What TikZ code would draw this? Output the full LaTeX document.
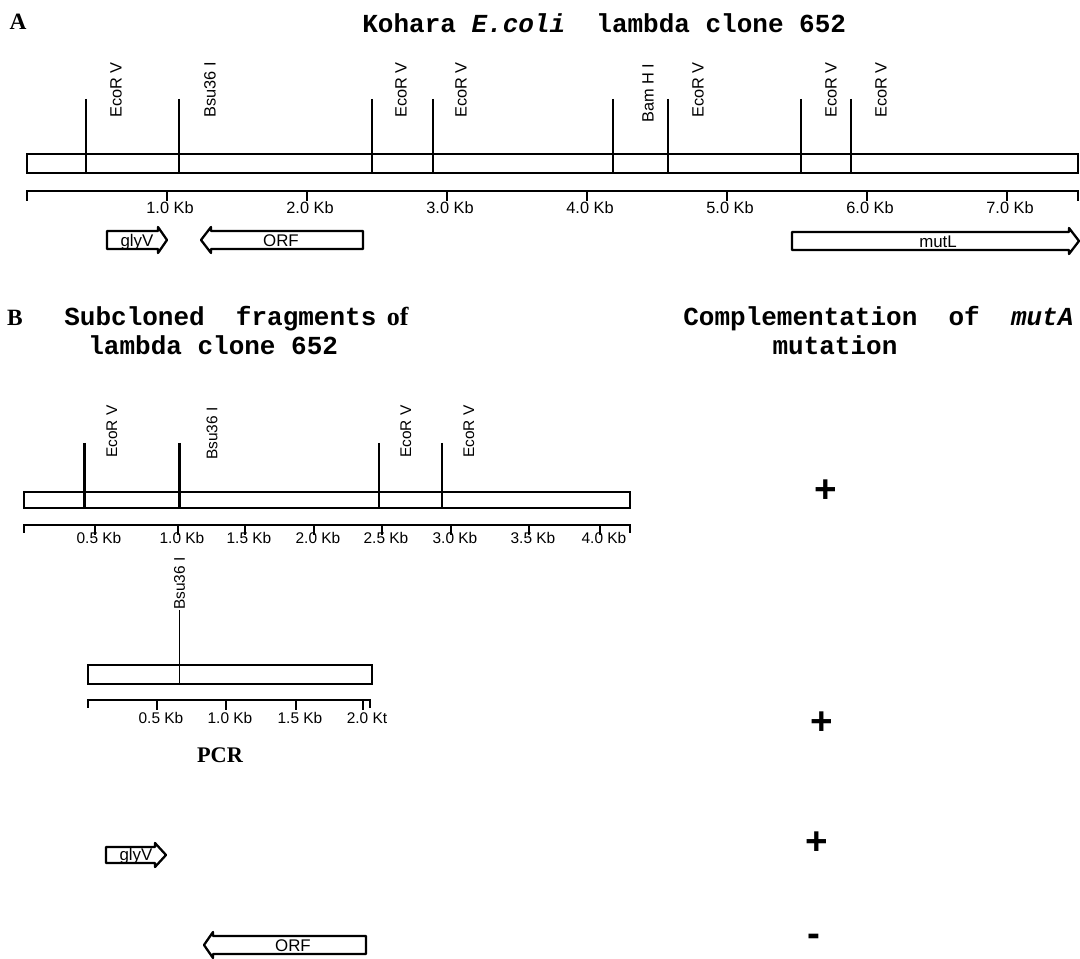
\documentclass[tikz,border=0pt]{standalone}
\usepackage{fontspec}
\setmainfont{Liberation Serif}
\setsansfont{Liberation Sans}
\setmonofont{Liberation Mono}

\tikzset{
    mapbox/.style={line width=1.5pt},
    site/.style={line width=1.3pt},
    ruler/.style={line width=1.6pt},
    tick/.style={line width=0.9pt},
    gene/.style={line width=1.3pt, line join=round},
    enzyme/.style={font=\sffamily\fontsize{9.3}{10}\selectfont, rotate=90, anchor=west, inner sep=0pt},
    subenzyme/.style={enzyme, font=\sffamily\fontsize{8.8}{10}\selectfont},
    kb/.style={font=\sffamily\fontsize{9.3}{10}\selectfont, inner sep=0pt},
    subkb/.style={kb, font=\sffamily\fontsize{8.8}{10}\selectfont},
    genename/.style={font=\sffamily\fontsize{9.6}{10}\selectfont, anchor=base, inner sep=0pt},
    heading/.style={font=\ttfamily\bfseries\fontsize{14.8}{16}\selectfont, anchor=west, inner sep=0pt},
    panel/.style={font=\rmfamily\bfseries\fontsize{13.3}{15}\selectfont, inner sep=0pt},
    score/.style={font=\sffamily\bfseries\fontsize{22}{24}\selectfont, inner sep=0pt}
}

\begin{document}
\begin{tikzpicture}[x=0.02cm, y=-0.02cm]
    \useasboundingbox (0,0) rectangle (1080,959);

    % A: the whole lambda clone
    \node[panel] (A) at (18,22) {A};
    \node[heading] (titleA) at (362,23) {Kohara \textit{E.coli}\ \ lambda clone 652};

    \draw[mapbox] (27,154) rectangle (1078,173);
    \draw[site] (86,99) -- (86,173);
    \draw[site] (179,99) -- (179,173);
    \draw[site] (372,99) -- (372,173);
    \draw[site] (433,99) -- (433,173);
    \draw[site] (613,99) -- (613,173);
    \draw[site] (668,99) -- (668,173);
    \draw[site] (801,99) -- (801,173);
    \draw[site] (851,99) -- (851,173);

    \node[enzyme] (ecoA1) at (116,118) {EcoR V};
    \node[enzyme] (bsuA) at (210,118) {Bsu36 I};
    \node[enzyme] (ecoA2) at (401,118) {EcoR V};
    \node[enzyme] (ecoA3) at (461,118) {EcoR V};
    \node[enzyme] (bamA) at (648,123) {Bam H I};
    \node[enzyme] (ecoA4) at (698,118) {EcoR V};
    \node[enzyme] (ecoA5) at (831,118) {EcoR V};
    \node[enzyme] (ecoA6) at (881,118) {EcoR V};

    \draw[ruler] (27,201) -- (27,191) -- (1078,191) -- (1078,201);
    \draw[tick] (167,191) -- (167,201);
    \draw[tick] (307,191) -- (307,201);
    \draw[tick] (447,191) -- (447,201);
    \draw[tick] (587,191) -- (587,201);
    \draw[tick] (727,191) -- (727,201);
    \draw[tick] (867,191) -- (867,201);
    \draw[tick] (1007,191) -- (1007,201);
    \node[kb] (kbA1) at (170,208) {1.0 Kb};
    \node[kb] (kbA2) at (310,208) {2.0 Kb};
    \node[kb] (kbA3) at (450,208) {3.0 Kb};
    \node[kb] (kbA4) at (590,208) {4.0 Kb};
    \node[kb] (kbA5) at (730,208) {5.0 Kb};
    \node[kb] (kbA6) at (870,208) {6.0 Kb};
    \node[kb] (kbA7) at (1010,208) {7.0 Kb};

    \draw[gene] (107,231) -- (158,231) -- (158,227) -- (167,240) -- (158,253) -- (158,249) -- (107,249) -- cycle;
    \node[genename] (glyA) at (137,247) {glyV};
    \draw[gene] (363,231) -- (211,231) -- (211,227) -- (201,240) -- (211,253) -- (211,249) -- (363,249) -- cycle;
    \node[genename] (orfA) at (281,247) {ORF};
    \draw[gene] (792,232) -- (1069,232) -- (1069,228) -- (1079,241) -- (1069,254) -- (1069,250) -- (792,250) -- cycle;
    \node[genename] (mutL) at (938,248) {mutL};

    % B: subclones and complementation
    \node[panel] (B) at (15,318) {B};
    \node[heading] (titleB) at (64,319) {Subcloned\ \ fragments\hspace{0.4em}{\rmfamily of}};
    \node[heading] (titleB2) at (88,345) {lambda clone 652};
    \node[heading] (titleC) at (683,319) {Complementation\ \ of\ \ \textit{mutA}};
    \node[heading, anchor=center] (titleC2) at (835,345) {mutation};

    \draw[mapbox] (24,492) rectangle (630,508);
    \draw[site] (84.5,443) -- (84.5,508);
    \draw[site] (179.6,443) -- (179.6,508);
    \draw[site] (378.8,443) -- (378.8,508);
    \draw[site] (442,443) -- (442,508);
    \node[subenzyme] (ecoB1) at (112,458) {EcoR V};
    \node[subenzyme] (bsuB) at (212,460) {Bsu36 I};
    \node[subenzyme] (ecoB2) at (406,458) {EcoR V};
    \node[subenzyme] (ecoB3) at (469,458) {EcoR V};

    \draw[ruler] (24,533) -- (24,525) -- (630,525) -- (630,533);
    \draw[tick] (95,525) -- (95,535);
    \draw[tick] (178,525) -- (178,535);
    \draw[tick] (245,525) -- (245,535);
    \draw[tick] (314,525) -- (314,535);
    \draw[tick] (382,525) -- (382,535);
    \draw[tick] (451,525) -- (451,535);
    \draw[tick] (529,525) -- (529,535);
    \draw[tick] (600,525) -- (600,535);
    \node[subkb] (kbB1) at (99,538) {0.5 Kb};
    \node[subkb] (kbB2) at (182,538) {1.0 Kb};
    \node[subkb] (kbB3) at (249,538) {1.5 Kb};
    \node[subkb] (kbB4) at (318,538) {2.0 Kb};
    \node[subkb] (kbB5) at (386,538) {2.5 Kb};
    \node[subkb] (kbB6) at (455,538) {3.0 Kb};
    \node[subkb] (kbB7) at (533,538) {3.5 Kb};
    \node[subkb] (kbB8) at (604,538) {4.0 Kb};

    \node[subenzyme] (bsuPCR) at (179.6,610) {Bsu36 I};
    \draw[line width=0.7pt] (179.6,610) -- (179.6,684);
    \draw[mapbox] (88,665) rectangle (372,684);
    \draw[ruler] (88,708) -- (88,700) -- (370,700) -- (370,708);
    \draw[tick] (157,700) -- (157,710);
    \draw[tick] (226,700) -- (226,710);
    \draw[tick] (296,700) -- (296,710);
    \draw[tick] (363,700) -- (363,710);
    \node[subkb] (kbP1) at (161,718) {0.5 Kb};
    \node[subkb] (kbP2) at (230,718) {1.0 Kb};
    \node[subkb] (kbP3) at (300,718) {1.5 Kb};
    \node[subkb] (kbP4) at (367,718) {2.0 Kt};
    \node[panel, font=\rmfamily\bfseries\fontsize{12.7}{14}\selectfont] (pcr) at (220,755) {PCR};

    \draw[gene] (106,847) -- (155,847) -- (155,843) -- (166,855) -- (155,867) -- (155,863) -- (106,863) -- cycle;
    \node[genename] (glyB) at (136,861) {glyV};
    \draw[gene] (366,936) -- (213,936) -- (213,932) -- (204,945) -- (213,958) -- (213,954) -- (366,954) -- cycle;
    \node[genename] (orfB) at (293,952) {ORF};

    \node[score] (plus1) at (826,491) {+};
    \node[score] (plus2) at (822,723) {+};
    \node[score] (plus3) at (817,843) {+};
    \node[score] (minus4) at (814,940) {-};
\end{tikzpicture}
\end{document}
